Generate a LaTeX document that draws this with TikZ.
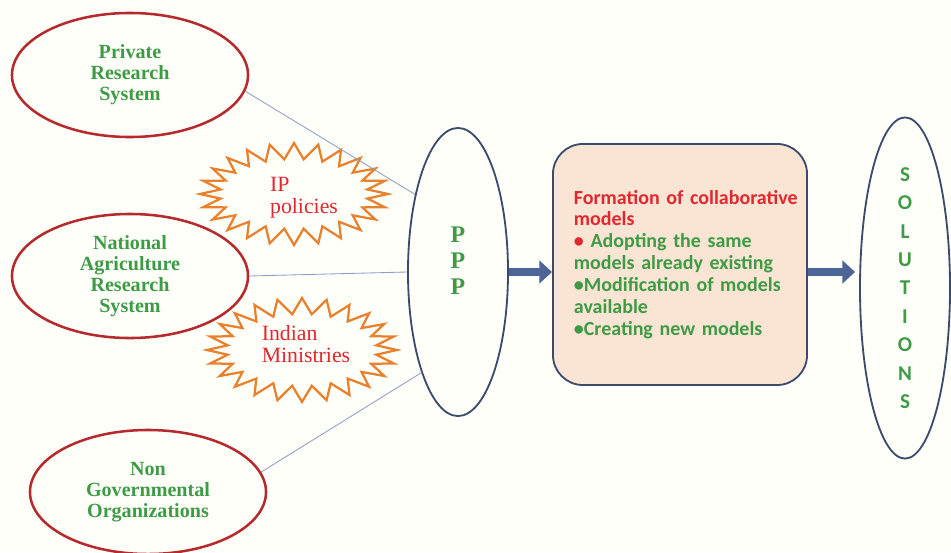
\documentclass[tikz,border=0pt]{standalone}
\usepackage{fontspec}
\setmainfont{Liberation Serif}
\newfontfamily\calfont{Carlito}
\usepackage{tikz}
\usetikzlibrary{shapes.geometric,arrows.meta}
\definecolor{bordo}{HTML}{B52A2C}
\definecolor{leaf}{HTML}{3E9B45}
\definecolor{redtxt}{HTML}{E0282E}
\definecolor{burnt}{HTML}{E8802C}
\definecolor{navy}{HTML}{3C4B6C}
\definecolor{peach}{HTML}{FAE4D4}
\definecolor{linkblue}{HTML}{8E9CC6}
\definecolor{arrowblue}{HTML}{4C6596}

\begin{document}
\begin{tikzpicture}[
    x=0.025cm, y=-0.025cm,
    actor/.style={ellipse, draw=bordo, line width=1.8pt, minimum width=5.9cm, minimum height=3.1cm,
                  inner sep=0pt, align=center, text=leaf, font=\fontsize{14.3}{15}\selectfont\bfseries},
    burst/.style={inner sep=0pt, align=left, text=redtxt, font=\fontsize{15.5}{15.5}\selectfont},
    zigzag/.style={draw=burnt, line width=1.6pt, line join=miter},
    hub/.style={ellipse, draw=navy, line width=1.3pt, inner sep=0pt, align=center, text=leaf},
    panel/.style={draw=navy, line width=1.3pt, fill=peach, rounded corners=0.75cm, minimum width=6.35cm,
                  minimum height=6.025cm, inner xsep=0.525cm, text width=5.3cm, align=left, text=leaf,
                  font=\calfont\fontsize{14.2}{15.6}\selectfont\bfseries},
    link/.style={draw=linkblue, line width=0.6pt},
    fat/.style={draw=arrowblue, line width=5.5pt, -{Triangle[length=9pt, width=16pt]}},
  ]
  \fill[white!98!yellow] (0,0) rectangle (951,552);
  \useasboundingbox (0,0) rectangle (951,552);

  % stakeholders
  \node[actor] (prs)  at (130,75)  {Private\\ Research\\ System};
  \node[actor] (nars) at (130,276) {National\\ Agriculture\\ Research\\ System};
  \node[actor] (ngo)  at (148,492) {Non\\ Governmental\\ Organizations};

  % starbursts
  \coordinate (ipc) at (294,194);
  \coordinate (minc) at (302,350);
  \node[burst] (ip)  at (304,198) {IP\\ policies};
  \node[burst] (min) at (306,344) {Indian\\ Ministries};
  \foreach \c/\ox/\oy in {ipc/94/51, minc/95/52}
    \draw[zigzag] ([shift={(\c)}]0:{\ox} and {\oy})
      \foreach \k [evaluate=\k as \rx using {isodd(\k) ? \ox-20 : \ox},
                   evaluate=\k as \ry using {isodd(\k) ? \oy-16 : \oy}] in {1,...,47}
        { -- ([shift={(\c)}]\k*7.5:{\rx} and {\ry}) } -- cycle;

  % partnership and outcome
  \node[hub, minimum width=2.5cm, minimum height=7.2cm, font=\fontsize{17}{19.5}\selectfont\bfseries]
    (ppp) at (458,272) {P\\[-1pt] P\\[-1pt] P\\[-3pt]};
  \node[panel] (box) at (680,264.5)
    {\textcolor{redtxt}{\mbox{Formation of collaborative}}\\
     \textcolor{redtxt}{models}\\
     \textcolor{redtxt}{•} Adopting the same\\
     models already existing\\
     •Modification of models\\
     available\\
     •Creating new models};
  \node[hub, minimum width=2.25cm, minimum height=7.25cm, font=\calfont\fontsize{15}{20.2}\selectfont\bfseries]
    (sol) at (905,288) {S\\ O\\ L\\ U\\ T\\ I\\ O\\ N\\ S};

  \draw[link] (prs.-8) -- (ppp.119);
  \draw[link] (nars.east) -- (ppp.west);
  \draw[link] (ngo.10) -- (ppp.-110);

  \draw[fat] (ppp.east) -- (box.west |- ppp.east);
  \draw[fat] (box.east |- ppp.east) -- ([xshift=-0.1cm]sol.west |- ppp.east);
\end{tikzpicture}
\end{document}
